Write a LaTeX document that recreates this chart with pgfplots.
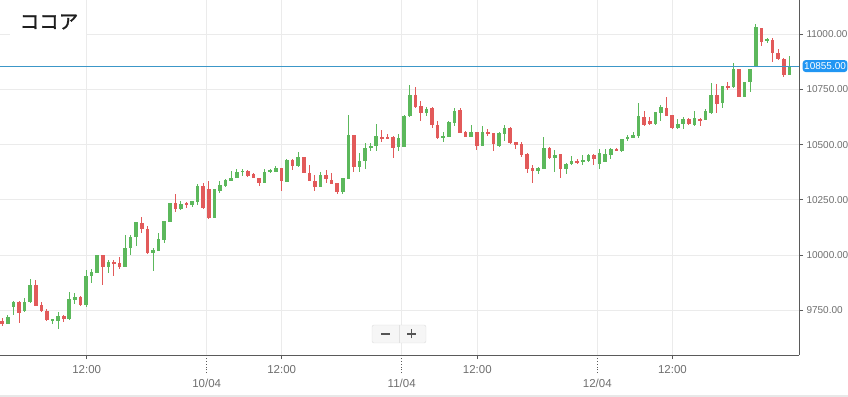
\documentclass[border=0pt]{standalone}
\usepackage{pgfplots}
\usepackage{pgfplotstable}
\pgfplotsset{compat=1.18}
\usepackage{fontspec}
\setmainfont{Liberation Sans}
\newfontfamily\cjk[FakeBold=1.3]{Noto Sans CJK JP}

\definecolor{cgreen}{HTML}{5CB85C}
\definecolor{cred}{HTML}{E25A5A}
\definecolor{gridgray}{HTML}{EBEBEB}
\definecolor{daygrid}{HTML}{D4D4D4}
\definecolor{axisgray}{HTML}{5A5A5A}
\definecolor{labelgray}{HTML}{6E6E6E}
\definecolor{priceline}{HTML}{3C97C8}
\definecolor{pricebox}{HTML}{2196F3}
\definecolor{titletext}{HTML}{1E1E1E}
\definecolor{btnborder}{HTML}{DCDCDC}
\definecolor{btnfill}{HTML}{F6F6F6}
\definecolor{btndiv}{HTML}{E1E1E1}
\definecolor{btnsym}{HTML}{555555}
\definecolor{bandgray}{HTML}{E8E8E8}

% rising candles: index, open, high, low, close
\pgfplotstableread{
i o h l c
2 9689 9730 9688 9722
3 9767 9794 9730 9790
5 9748 9805 9745 9787
6 9787 9891 9785 9865
10 9704 9711 9688 9710
11 9704 9745 9665 9725
13 9712 9834 9708 9801
14 9798 9828 9778 9812
16 9775 9933 9765 9906
17 9907 9936 9873 9925
18 9921 10003 9918 10001
20 9945 9978 9921 9971
23 9948 10091 9946 10031
24 10031 10091 10001 10081
25 10081 10150 10043 10149
28 10011 10031 9930 10024
29 10020 10102 10020 10072
30 10069 10155 10054 10155
31 10152 10238 10150 10237
33 10207 10246 10204 10231
35 10227 10246 10216 10244
36 10242 10322 10227 10313
39 10169 10300 10168 10298
40 10290 10337 10282 10317
41 10314 10345 10310 10340
42 10337 10382 10336 10350
43 10348 10388 10347 10375
44 10376 10390 10358 10382
48 10325 10390 10325 10375
49 10375 10388 10373 10385
50 10378 10403 10376 10393
52 10332 10435 10332 10430
54 10405 10468 10400 10445
58 10310 10377 10307 10363
62 10286 10351 10275 10349
63 10345 10634 10344 10543
65 10397 10461 10375 10426
66 10426 10506 10390 10483
67 10483 10506 10472 10494
68 10494 10592 10472 10539
72 10489 10548 10471 10528
73 10489 10634 10489 10629
74 10629 10769 10623 10724
77 10644 10671 10629 10660
80 10531 10558 10513 10539
81 10536 10608 10536 10604
82 10599 10667 10584 10653
85 10533 10589 10533 10556
87 10495 10584 10495 10556
90 10494 10558 10490 10554
91 10548 10589 10518 10574
97 10382 10400 10366 10396
98 10388 10533 10388 10483
100 10438 10476 10377 10453
102 10388 10416 10367 10412
103 10411 10448 10408 10427
105 10425 10453 10408 10427
106 10426 10458 10420 10453
108 10412 10480 10390 10462
109 10423 10479 10420 10456
110 10453 10486 10434 10480
112 10471 10525 10468 10524
113 10529 10543 10518 10533
114 10529 10558 10529 10543
115 10539 10687 10529 10629
118 10593 10649 10589 10646
119 10644 10679 10608 10671
122 10574 10614 10570 10593
123 10592 10623 10570 10614
125 10589 10652 10584 10619
127 10611 10661 10611 10653
128 10641 10777 10638 10724
130 10687 10765 10667 10765
132 10762 10870 10754 10842
134 10716 10785 10715 10784
135 10782 10843 10739 10842
136 10855 11044 10853 11030
138 10970 10981 10961 10976
142 10815 10900 10814 10852
}\greentab

% falling candles: index, open, high, low, close
\pgfplotstableread{
i o h l c
1 9704 9716 9680 9689
4 9790 9792 9695 9740
7 9865 9888 9770 9772
8 9775 9790 9745 9748
9 9748 9758 9702 9707
12 9725 9730 9699 9712
15 9812 9815 9772 9775
19 10001 10003 9865 9948
21 9971 9978 9907 9963
22 9963 9990 9936 9945
26 10144 10171 10099 10117
27 10117 10132 10005 10011
32 10237 10277 10197 10207
34 10235 10242 10212 10231
37 10313 10328 10209 10212
38 10298 10337 10164 10167
45 10381 10385 10352 10359
46 10367 10373 10347 10348
47 10348 10350 10313 10325
51 10393 10395 10292 10337
53 10430 10434 10385 10405
55 10443 10445 10370 10370
56 10373 10408 10337 10337
57 10337 10363 10292 10310
59 10363 10385 10325 10343
60 10340 10373 10322 10322
61 10325 10326 10275 10284
64 10543 10545 10377 10397
69 10533 10566 10513 10530
70 10533 10548 10530 10530
71 10533 10539 10441 10483
75 10724 10762 10667 10671
76 10674 10697 10608 10644
78 10667 10671 10574 10589
79 10589 10607 10525 10528
83 10656 10664 10551 10554
84 10556 10563 10533 10533
86 10556 10558 10476 10494
88 10558 10571 10539 10547
89 10551 10552 10471 10503
92 10576 10581 10503 10506
93 10513 10514 10479 10498
94 10503 10510 10443 10453
95 10458 10461 10370 10390
96 10396 10408 10328 10382
99 10486 10491 10434 10438
101 10458 10458 10348 10388
104 10426 10434 10411 10420
107 10453 10458 10408 10433
111 10480 10483 10471 10472
116 10626 10653 10584 10589
117 10608 10623 10589 10593
120 10664 10717 10631 10631
121 10634 10634 10570 10574
124 10614 10619 10589 10592
126 10614 10619 10584 10608
129 10724 10774 10644 10683
131 10765 10783 10747 10760
133 10842 10843 10715 10716
137 11026 11028 10946 10965
139 10973 10981 10875 10913
140 10915 10931 10882 10886
141 10886 10890 10807 10815
}\redtab

\begin{document}
\begin{tikzpicture}
\path[use as bounding box] (0bp,-42bp) rectangle (848bp,355bp);
\begin{axis}[
  at={(0bp,0bp)}, anchor=south west,
  scale only axis, width=799bp, height=355bp,
  xmin=0.588, xmax=143.73, ymin=9548.8, ymax=11153.7,
  axis x line=bottom, axis y line=right,
  axis line style={-, draw=axisgray, line width=0.9bp},
  tick align=outside, major tick length=4bp,
  tick style={draw=axisgray, line width=0.8bp},
  grid=major, major grid style={draw=gridgray, line width=0.9bp},
  xtick={16.12,51.05,86.10,121.06},
  xticklabels={12:00,12:00,12:00,12:00},
  extra x ticks={37.62,72.55,107.59},
  extra x tick labels={10/04,11/04,12/04},
  extra x tick style={
    grid style={draw=daygrid, line width=1bp},
    major tick length=18bp,
    tick style={draw=axisgray, line width=0.8bp, dotted}},
  xticklabel style={font=\fontsize{11.5bp}{12bp}\selectfont, text=labelgray, anchor=base, yshift=-14bp},
  ytick={9750,10000,10250,10500,10750,11000},
  yticklabels={9750.00,10000.00,10250.00,10500.00,10750.00,11000.00},
  yticklabel style={font=\fontsize{10bp}{11bp}\selectfont, text=labelgray, anchor=west, xshift=0bp},
  clip=true,
]
% wicks
\addplot[draw=none, mark=none, forget plot,
  error bars/.cd, y dir=both, y explicit, error mark=none,
  error bar style={draw=cgreen, line width=1bp, solid}]
  table[x=i, y expr={(\thisrow{h}+\thisrow{l})/2}, y error expr={(\thisrow{h}-\thisrow{l})/2}] {\greentab};
\addplot[draw=none, mark=none, forget plot,
  error bars/.cd, y dir=both, y explicit, error mark=none,
  error bar style={draw=cred, line width=1bp, solid}]
  table[x=i, y expr={(\thisrow{h}+\thisrow{l})/2}, y error expr={(\thisrow{h}-\thisrow{l})/2}] {\redtab};
% bodies
\addplot[draw=none, mark=none, forget plot,
  error bars/.cd, y dir=both, y explicit, error mark=none,
  error bar style={draw=cgreen, line width=3.6bp, solid}]
  table[x=i, y expr={(\thisrow{o}+\thisrow{c})/2}, y error expr={max(abs(\thisrow{o}-\thisrow{c})/2,2.4)}] {\greentab};
\addplot[draw=none, mark=none, forget plot,
  error bars/.cd, y dir=both, y explicit, error mark=none,
  error bar style={draw=cred, line width=3.6bp, solid}]
  table[x=i, y expr={(\thisrow{o}+\thisrow{c})/2}, y error expr={max(abs(\thisrow{o}-\thisrow{c})/2,2.4)}] {\redtab};
% current price line
\addplot[priceline, line width=1bp, forget plot] coordinates {(0.588,10855) (143.73,10855)};
\coordinate (pl) at (axis cs:143.73,10855);
\end{axis}
% price label
\node[fill=pricebox, text=white, rounded corners=3bp, inner xsep=1.5bp, inner ysep=1.5bp,
  minimum height=12bp, anchor=west, font=\fontsize{10bp}{11bp}\selectfont] at ([xshift=3.5bp]pl) {10855.00};
% title box
\fill[white] (10bp,318bp) rectangle (86bp,355bp);
\node[font=\cjk\fontsize{19.5bp}{22bp}\selectfont, text=titletext, anchor=center] at (49bp,333bp) {ココア};
% zoom buttons
\draw[draw=btnborder, fill=btnfill, rounded corners=2bp] (372bp,12bp) rectangle (426bp,30bp);
\draw[draw=btndiv] (399bp,12bp) -- (399bp,30bp);
\draw[draw=btnsym, line width=1.6bp] (381bp,21bp) -- (390bp,21bp);
\draw[draw=btnsym, line width=1.6bp] (407bp,21bp) -- (416bp,21bp) (411.5bp,16.5bp) -- (411.5bp,25.5bp);
% bottom band
\fill[bandgray] (0bp,-42bp) rectangle (848bp,-39.5bp);
\end{tikzpicture}
\end{document}
